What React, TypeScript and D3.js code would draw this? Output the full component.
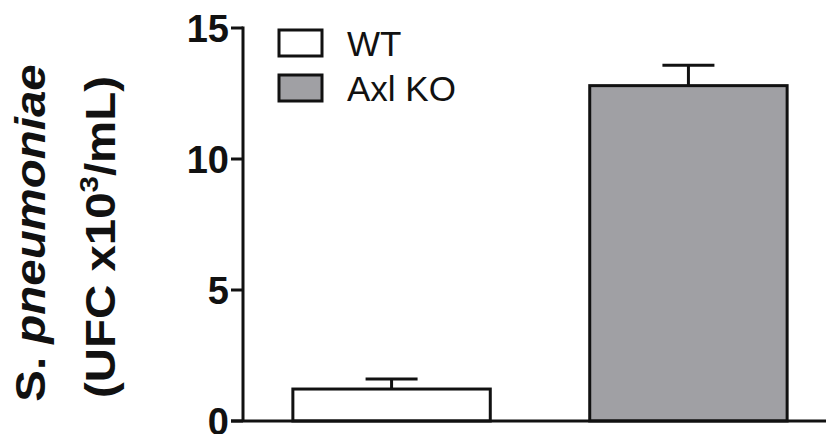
import React from "react";
import * as d3 from "d3";

const categories = ["WT", "Axl KO"];
const means = [1.22, 12.8];
const errors = [0.38, 0.78];
const fills = ["#ffffff", "#a0a0a4"];
const yTicks = [0, 5, 10, 15];

const W = 826;
const H = 434;

export default function App() {
  React.useEffect(() => {
    document.body.style.margin = "0";
  }, []);
  const axisX = 243;
  const y = d3.scaleLinear().domain([0, 15]).range([421, 28]);
  const x = d3
    .scaleBand<string>()
    .domain(categories)
    .range([axisX, 837])
    .paddingInner(0.335)
    .paddingOuter(0.168);
  const bw = x.bandwidth();
  const capHalf = 26;
  const font = "'Liberation Sans', Arial, sans-serif";
  const ink = "#111";

  return (
    <svg
      width={W}
      height={H}
      style={{ display: "block", position: "absolute", left: 0, top: 0, background: "#fff" }}
      fontFamily={font}
    >
      {/* bars */}
      {categories.map((c, i) => {
        const x0 = x(c)!;
        const cx = x0 + bw / 2;
        return (
          <g key={c}>
            <line x1={cx} x2={cx} y1={y(means[i])} y2={y(means[i] + errors[i])} stroke={ink} strokeWidth={3} />
            <line
              x1={cx - capHalf}
              x2={cx + capHalf}
              y1={y(means[i] + errors[i])}
              y2={y(means[i] + errors[i])}
              stroke={ink}
              strokeWidth={3}
            />
            <rect
              x={x0}
              y={y(means[i])}
              width={bw}
              height={y(0) - y(means[i])}
              fill={fills[i]}
              stroke={ink}
              strokeWidth={3}
            />
          </g>
        );
      })}
      {/* y axis */}
      <line x1={axisX} x2={axisX} y1={y(15) - 1.5} y2={y(0)} stroke={ink} strokeWidth={3} />
      {yTicks.map((t) => (
        <g key={t}>
          <line x1={231} x2={axisX} y1={y(t)} y2={y(t)} stroke={ink} strokeWidth={3} />
          <text
            x={229}
            y={y(t)}
            dy="0.36em"
            textAnchor="end"
            fontSize={38}
            fontWeight="bold"
            fill={ink}
          >
            {t}
          </text>
        </g>
      ))}
      {/* x axis */}
      <line x1={231} x2={W} y1={y(0)} y2={y(0)} stroke={ink} strokeWidth={3} />
      {/* legend */}
      {categories.map((c, i) => (
        <g key={"lg" + c} transform={`translate(279, ${30 + i * 45})`}>
          <rect x={0} y={0} width={43} height={26} fill={fills[i]} stroke={ink} strokeWidth={3} />
          <text x={68} y={26} fontSize={35} fill={ink}>
            {c}
          </text>
        </g>
      ))}
      {/* y title */}
      <text
        transform="translate(45, 233) rotate(-90) scale(1.13, 1)"
        textAnchor="middle"
        fontSize={42}
        fontWeight="bold"
        fill={ink}
      >
        S. <tspan fontStyle="italic">pneumoniae</tspan>
      </text>
      <text
        transform="translate(115, 237) rotate(-90) scale(1.13, 1)"
        textAnchor="middle"
        fontSize={42}
        fontWeight="bold"
        fill={ink}
      >
        (UFC x10<tspan fontSize={26} dy={-17}>3</tspan>
        <tspan dy={17}>/mL)</tspan>
      </text>
    </svg>
  );
}
